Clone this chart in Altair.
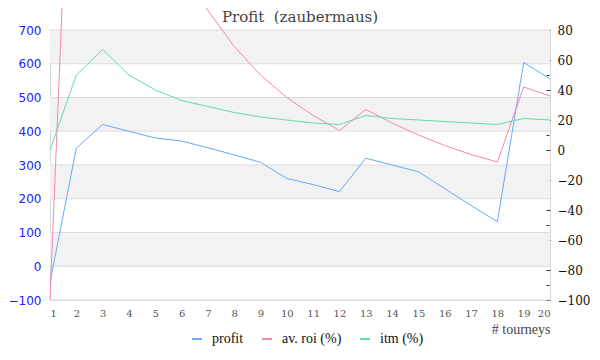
import altair as alt
import pandas as pd

# ---- data ----
tourneys = list(range(1, 21))
profit = [-48, 350, 420, 400, 380, 371, 351, 330, 308, 260, 242, 221, 320, 300, 280, 230, 180, 132, 604, 555]
roi = [-100, 326, 351, 238, 170, 125, 93, 69, 50, 35, 23, 13, 27, 18, 10, 3, -3, -8, 42, 36]
itm = [0, 50, 67, 50, 40, 33, 29, 25, 22, 20, 18, 17, 23, 21, 20, 19, 18, 17, 21, 20]

series_names = ["profit", "av. roi (%)", "itm (%)"]
series_colors = ["#66aaf7", "#f585b9", "#5fdfa3"]

band_lo = [600, 400, 200, 0]
band_hi = [700, 500, 300, 100]
left_ticks = [-100, 0, 100, 200, 300, 400, 500, 600, 700]
right_ticks = list(range(-100, 81, 10))
title_text = ["Profit\u00a0 (zaubermaus)"]

df_profit = pd.DataFrame({"t": tourneys, "v": profit, "s": ["profit"] * len(tourneys)})
df_right = pd.DataFrame({
    "t": tourneys + tourneys,
    "v": roi + itm,
    "s": ["av. roi (%)"] * len(tourneys) + ["itm (%)"] * len(tourneys),
})
df_bands = pd.DataFrame({"lo": band_lo, "hi": band_hi})
df_grid = pd.DataFrame({"g": left_ticks})
df_title = pd.DataFrame({"title": title_text})

W, H = 500, 270

x_enc = alt.X(
    "t:Q",
    scale=alt.Scale(domain=[1, 20], nice=False, zero=False),
    axis=alt.Axis(
        values=tourneys, title="# tourneys", ticks=False, domain=False, grid=False,
        labelFont="DejaVu Serif", labelFontSize=10, labelColor="#555", labelPadding=8,
        titleFont="Liberation Serif", titleFontSize=14, titleFontWeight="normal", titleColor="#444",
        titleAnchor="end", titlePadding=4, format="d",
    ),
)

left_scale = alt.Scale(domain=[-100, 700], nice=False, zero=False)
left_axis = alt.Axis(
    values=left_ticks, title=None, ticks=False, domain=False, grid=False,
    labelFont="DejaVu Sans", labelFontSize=12, labelColor="#2020ff", labelPadding=9,
)

color_enc = alt.Color(
    "s:N",
    sort=series_names,
    scale=alt.Scale(domain=series_names, range=series_colors),
    legend=alt.Legend(
        title=None, orient="none", legendX=140, legendY=302, direction="horizontal",
        symbolType="stroke", symbolStrokeWidth=2, symbolSize=100,
        labelFont="Liberation Serif", labelFontSize=14, labelColor="#111",
        labelOffset=8, columnPadding=14,
    ),
)

bands = alt.Chart(df_bands).mark_rect(color="#f2f2f2").encode(
    x=alt.value(0), x2=alt.value(W),
    y=alt.Y("lo:Q", scale=left_scale, axis=left_axis), y2="hi:Q",
)
grid = alt.Chart(df_grid).mark_rule(color="#dcdcdc", strokeWidth=1).encode(
    y=alt.Y("g:Q", scale=left_scale, axis=left_axis),
)
profit_line = alt.Chart(df_profit).mark_line(strokeWidth=1).encode(
    x=x_enc,
    y=alt.Y("v:Q", scale=left_scale, axis=left_axis),
    color=color_enc,
)
left_layer = alt.layer(bands, grid, profit_line)

right_axis = alt.Axis(
    orient="right", values=right_ticks, title=None, domain=False, grid=False,
    labelExpr="datum.value % 20 == 0 ? datum.label : ''",
    tickColor="#333", tickSize={"condition": {"test": "datum.value % 20 != 0", "value": 3}, "value": 4},
    offset=-4, labelPadding=7,
    labelFont="DejaVu Serif", labelFontSize=12, labelColor="#111",
)
right_lines = alt.Chart(df_right).mark_line(strokeWidth=1).encode(
    x=x_enc,
    y=alt.Y("v:Q", scale=alt.Scale(domain=[-100, 80], nice=False, zero=False), axis=right_axis),
    color=color_enc,
    detail="s:N",
)

title_mark = alt.Chart(df_title).mark_text(
    font="DejaVu Serif", fontSize=15, color="#444", align="center", baseline="alphabetic",
).encode(x=alt.value(W / 2), y=alt.value(-8), text="title:N")

chart = alt.layer(left_layer, right_lines, title_mark).resolve_scale(y="independent").properties(
    width=W, height=H,
    autosize=alt.AutoSizeParams(type="none"),
    padding={"left": 42, "top": 22, "right": 40, "bottom": 50},
).configure_view(stroke="#d8d8d8", strokeWidth=1)

chart.save("out.html", embed_options={"renderer": "svg", "actions": False})
